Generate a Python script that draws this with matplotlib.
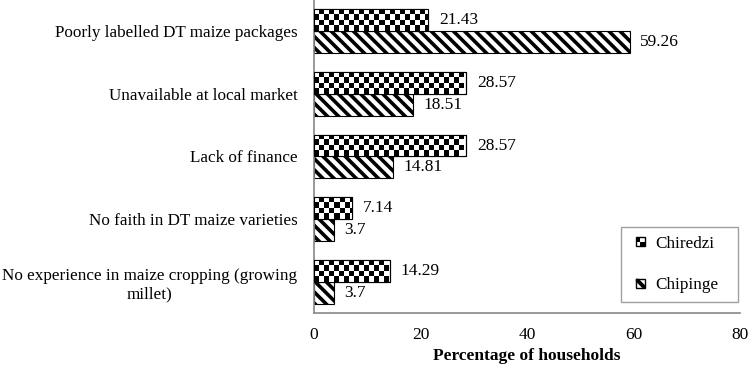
import numpy as np
import matplotlib
matplotlib.use('Agg')
import matplotlib.pyplot as plt
from matplotlib.patches import Rectangle, Patch, Polygon
from matplotlib.legend_handler import HandlerBase

categories = ['Poorly labelled DT maize packages',
              'Unavailable at local market',
              'Lack of finance',
              'No faith in DT maize varieties',
              'No experience in maize cropping (growing\nmillet)']
chiredzi = [21.43, 28.57, 28.57, 7.14, 14.29]
chipinge = [59.26, 18.51, 14.81, 3.7, 3.7]
chiredzi_labels = ['21.43', '28.57', '28.57', '7.14', '14.29']
chipinge_labels = ['59.26', '18.51', '14.81', '3.7', '3.7']

plt.rcParams['font.family'] = ['Liberation Serif', 'DejaVu Serif']
plt.rcParams['hatch.linewidth'] = 2.6

fig = plt.figure(figsize=(7.5, 3.69), dpi=100)
ax = fig.add_axes([0.4187, 0.152, 0.568, 0.848])

ypos = np.arange(len(categories))[::-1]
h = 0.35
fs = 12.5
cell = 5.0  # checker cell size in pixels
px_per_x = 0.568 * 750 / 80
px_per_y = 0.848 * 369 / 5

# Chiredzi bars: checkerboard texture clipped to each bar
bars1 = ax.barh(ypos + h / 2, chiredzi, height=h, facecolor='white',
                edgecolor='black', linewidth=0.8, zorder=2)
for b, v in zip(bars1, chiredzi):
    nx = max(1, int(round(v * px_per_x / cell)))
    ny = max(1, int(round(h * px_per_y / cell)))
    tex = np.indices((ny, nx)).sum(axis=0) % 2
    y0 = b.get_y()
    im = ax.imshow(1 - tex, cmap='gray', vmin=0, vmax=1, aspect='auto',
                   extent=(0, nx * cell / px_per_x, y0, y0 + h),
                   interpolation='nearest', zorder=2.5)
    im.set_clip_path(b)
    ax.add_patch(Rectangle((0, y0), v, h, fill=False, edgecolor='black',
                           linewidth=0.8, zorder=3))

# Chipinge bars: diagonal hatch
bars2 = ax.barh(ypos - h / 2, chipinge, height=h, facecolor='white',
                edgecolor='black', linewidth=0.8, hatch='\\\\\\', zorder=2)

for y, v, t in zip(ypos, chiredzi, chiredzi_labels):
    ax.text(v + 2.0, y + h / 2, t, va='center', ha='left', fontsize=fs)
for y, v, t in zip(ypos, chipinge, chipinge_labels):
    ax.text(v + 2.0, y - h / 2, t, va='center', ha='left', fontsize=fs)

ax.set_xlim(0, 80)
ax.set_ylim(-0.5, 4.5)
ax.set_xticks([0, 20, 40, 60, 80])
ax.set_yticks(ypos)
ax.set_yticklabels(categories, fontsize=12.3, multialignment='center')
ax.tick_params(axis='both', length=0)
ax.tick_params(axis='x', labelsize=fs, pad=10)
ax.tick_params(axis='y', pad=12)
ax.set_xlabel('Percentage of households', fontsize=fs, fontweight='bold',
              labelpad=4)
for s in ['top', 'right']:
    ax.spines[s].set_visible(False)
for s in ['left', 'bottom']:
    ax.spines[s].set_color('#888888')
    ax.spines[s].set_linewidth(1.2)


class IconHandler(HandlerBase):
    # small square icon drawn at the right end of the handle box
    def __init__(self, kind):
        super().__init__()
        self.kind = kind

    def create_artists(self, legend, orig_handle, xdescent, ydescent,
                       width, height, fontsize, trans):
        s = height
        x0 = -xdescent + width - s
        y0 = -ydescent
        arts = []
        if self.kind == 'checker':
            for i in range(2):
                for j in range(2):
                    fc = 'black' if (i + j) % 2 == 1 else 'white'
                    arts.append(Rectangle((x0 + i * s / 2, y0 + j * s / 2),
                                          s / 2, s / 2, facecolor=fc,
                                          edgecolor='none', transform=trans))
        else:
            # thick diagonal band from top-left to bottom-right
            w = 0.3 * s
            band = [(x0, y0 + s), (x0 + w, y0 + s), (x0 + s, y0 + w),
                    (x0 + s, y0), (x0 + s - w, y0), (x0, y0 + s - w)]
            arts.append(Polygon(band, closed=True, facecolor='black',
                                edgecolor='none', transform=trans))
        arts.append(Rectangle((x0, y0), s, s, fill=False,
                              edgecolor='black', linewidth=1.0,
                              transform=trans))
        return arts


h1 = Patch(facecolor='white', edgecolor='black')
h2 = Patch(facecolor='white', edgecolor='black')
leg = ax.legend([h1, h2], ['Chiredzi', 'Chipinge'],
                handler_map={h1: IconHandler('checker'), h2: IconHandler('hatch')},
                loc='lower left', bbox_to_anchor=(0.7207, 0.035, 0.2746, 0.2366),
                mode='expand', fontsize=12.3, frameon=True, fancybox=False,
                handlelength=0.9, handleheight=0.45, handletextpad=0.62,
                labelspacing=1.5, borderpad=0.5, borderaxespad=0)
leg.get_frame().set_edgecolor('#888888')
leg.get_frame().set_linewidth(1.0)

fig.savefig('out.png', dpi=100)
